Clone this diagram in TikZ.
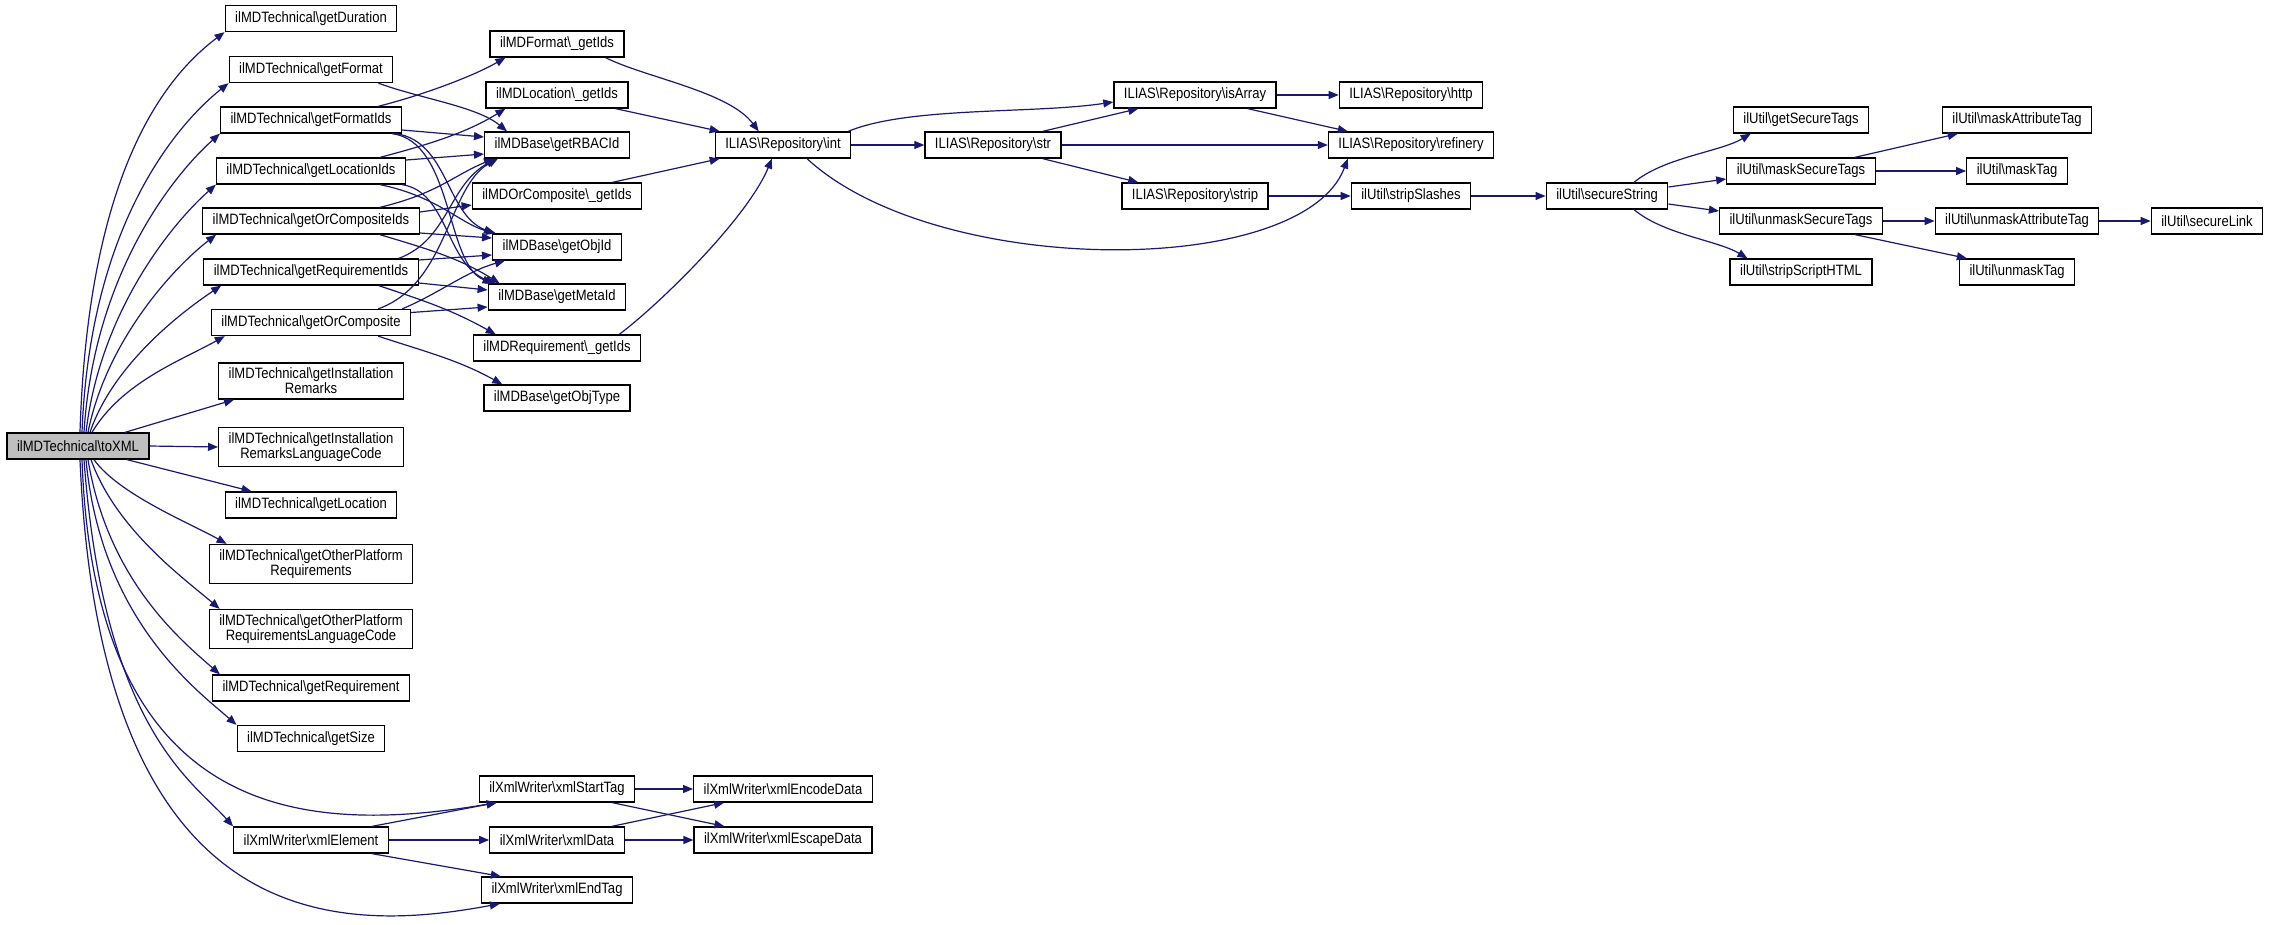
\documentclass[tikz,border=0pt]{standalone}
\usepackage{fontspec}
\setmainfont{Liberation Sans}[FakeStretch=0.87]
\usetikzlibrary{arrows.meta}
\definecolor{edgeblue}{RGB}{25,25,112}
\definecolor{rootgray}{RGB}{191,191,191}
\newcommand{\bsl}{\textbackslash}

\begin{document}
\begin{tikzpicture}[x=1pt,y=-1pt,
  fn/.style={draw=black,fill=white,line width=1.3pt,inner xsep=10pt,inner ysep=5pt,minimum height=26pt,align=center,font=\fontsize{15}{15}\selectfont},
  call/.style={-{Triangle[length=10pt,width=8pt]},draw=edgeblue,line width=1.2pt}]
\path[use as bounding box,fill=white] (0,0) rectangle (2271,924);

% caller
\node[fn,fill=rootgray] (toxml) at (78,446) {ilMDTechnical\bsl toXML};

% ilMDTechnical members
\node[fn] (getdur) at (311,18.5) {ilMDTechnical\bsl getDuration};
\node[fn] (getfmt) at (311,69.5) {ilMDTechnical\bsl getFormat};
\node[fn] (fmtids) at (311,120) {ilMDTechnical\bsl getFormatIds};
\node[fn] (locids) at (311,171) {ilMDTechnical\bsl getLocationIds};
\node[fn] (orcids) at (311,221) {ilMDTechnical\bsl getOrCompositeIds};
\node[fn] (reqids) at (311,272) {ilMDTechnical\bsl getRequirementIds};
\node[fn] (orc) at (311,322.5) {ilMDTechnical\bsl getOrComposite};
\node[fn] (instrem) at (311,381) {ilMDTechnical\bsl getInstallation\\Remarks};
\node[fn] (instlang) at (311,447) {ilMDTechnical\bsl getInstallation\\RemarksLanguageCode};
\node[fn] (getloc) at (311,505) {ilMDTechnical\bsl getLocation};
\node[fn] (oprreq) at (311,564) {ilMDTechnical\bsl getOtherPlatform\\Requirements};
\node[fn] (oprlang) at (311,629) {ilMDTechnical\bsl getOtherPlatform\\RequirementsLanguageCode};
\node[fn] (getreq) at (311,688) {ilMDTechnical\bsl getRequirement};
\node[fn] (getsize) at (311,738.5) {ilMDTechnical\bsl getSize};
\node[fn] (xmlel) at (311,840) {ilXmlWriter\bsl xmlElement};

% base and helper classes
\node[fn] (fmtget) at (557,44) {ilMDFormat\bsl\_getIds};
\node[fn] (locget) at (557,95) {ilMDLocation\bsl\_getIds};
\node[fn] (rbac) at (557,145) {ilMDBase\bsl getRBACId};
\node[fn] (orcget) at (557,196) {ilMDOrComposite\bsl\_getIds};
\node[fn] (objid) at (557,247) {ilMDBase\bsl getObjId};
\node[fn] (metaid) at (557,297) {ilMDBase\bsl getMetaId};
\node[fn] (reqget) at (557,348) {ilMDRequirement\bsl\_getIds};
\node[fn] (objtype) at (557,398) {ilMDBase\bsl getObjType};
\node[fn] (starttag) at (557,789) {ilXmlWriter\bsl xmlStartTag};
\node[fn] (xmldata) at (557,840) {ilXmlWriter\bsl xmlData};
\node[fn] (endtag) at (557,890) {ilXmlWriter\bsl xmlEndTag};
\node[fn] (encdata) at (783,789) {ilXmlWriter\bsl xmlEncodeData};
\node[fn] (escdata) at (783,840) {ilXmlWriter\bsl xmlEscapeData};

% repository
\node[fn] (rint) at (783,145) {ILIAS\bsl Repository\bsl int};
\node[fn] (rstr) at (993,145) {ILIAS\bsl Repository\bsl str};
\node[fn] (risarr) at (1195,95) {ILIAS\bsl Repository\bsl isArray};
\node[fn] (rstrip) at (1195,196) {ILIAS\bsl Repository\bsl strip};
\node[fn] (rhttp) at (1411,95) {ILIAS\bsl Repository\bsl http};
\node[fn] (rrefin) at (1411,145) {ILIAS\bsl Repository\bsl refinery};
\node[fn] (stripsl) at (1411,196) {ilUtil\bsl stripSlashes};

% ilUtil
\node[fn] (securestr) at (1607,196) {ilUtil\bsl secureString};
\node[fn] (getsec) at (1801,120) {ilUtil\bsl getSecureTags};
\node[fn] (masksec) at (1801,171) {ilUtil\bsl maskSecureTags};
\node[fn] (unmasksec) at (1801,221) {ilUtil\bsl unmaskSecureTags};
\node[fn] (stripscr) at (1801,272) {ilUtil\bsl stripScriptHTML};
\node[fn] (maskattr) at (2017,120) {ilUtil\bsl maskAttributeTag};
\node[fn] (masktag) at (2017,171) {ilUtil\bsl maskTag};
\node[fn] (unmaskattr) at (2017,221) {ilUtil\bsl unmaskAttributeTag};
\node[fn] (unmasktag) at (2017,272) {ilUtil\bsl unmaskTag};
\node[fn] (securelink) at (2207,221) {ilUtil\bsl secureLink};

% calls from toXML
\draw[call] ([xshift=2]toxml.north) .. controls +(8,-260) and +(-60,45) .. (getdur.south west);
\draw[call] ([xshift=4]toxml.north) .. controls +(8,-210) and +(-50,40) .. (getfmt.south west);
\draw[call] ([xshift=6]toxml.north) .. controls +(10,-160) and +(-45,40) .. (fmtids.south west);
\draw[call] ([xshift=8]toxml.north) .. controls +(14,-120) and +(-45,40) .. (locids.south west);
\draw[call] ([xshift=10]toxml.north) .. controls +(18,-90) and +(-45,35) .. ([xshift=14]orcids.south west);
\draw[call] ([xshift=12]toxml.north) .. controls +(22,-65) and +(-45,30) .. ([xshift=18]reqids.south west);
\draw[call] ([xshift=14]toxml.north) .. controls +(30,-50) and +(-45,25) .. ([xshift=14]orc.south west);
\draw[call] ([xshift=47]toxml.north) -- ([xshift=16]instrem.south west);
\draw[call] (toxml.east) -- (instlang.west);
\draw[call] ([xshift=49]toxml.south) -- ([xshift=27]getloc.north west);
\draw[call] ([xshift=16]toxml.south) .. controls +(25,35) and +(-35,-20) .. ([xshift=18]oprreq.north west);
\draw[call] ([xshift=13]toxml.south) .. controls +(25,70) and +(-35,-30) .. ([xshift=11]oprlang.north west);
\draw[call] ([xshift=10]toxml.south) .. controls +(20,120) and +(-40,-35) .. ([xshift=8]getreq.north west);
\draw[call] ([xshift=8]toxml.south) .. controls +(15,160) and +(-40,-35) .. (getsize.north west);
\draw[call] ([xshift=6]toxml.south) .. controls +(20,270) and +(-40,-45) .. (xmlel.north west);
\draw[call] ([xshift=4]toxml.south) .. controls +(13,361) and +(-194,33) .. ([xshift=18]starttag.south west);
\draw[call] ([xshift=2]toxml.south) .. controls +(20,471) and +(-169,32) .. ([xshift=19]endtag.south west);

% xml writer
\draw[call] ([xshift=-17]xmlel.north east) -- ([xshift=18]starttag.south west);
\draw[call] (xmlel) -- (xmldata);
\draw[call] ([xshift=-17]xmlel.south east) -- ([xshift=20]endtag.north west);
\draw[call] (starttag) -- (encdata);
\draw[call] ([xshift=-23]starttag.south east) -- ([xshift=31]escdata.north west);
\draw[call] ([xshift=-13]xmldata.north east) -- ([xshift=31]encdata.south west);
\draw[call] (xmldata) -- (escdata);

% ids and base getters
\draw[call] ([xshift=-15]getfmt.south east) .. controls +(40,15) and +(-30,-25) .. ([xshift=23]rbac.north west);
\draw[call] ([xshift=-24]fmtids.north east) .. controls +(40,-10) and +(-35,20) .. ([xshift=16]fmtget.south west);
\draw[call] ([yshift=-10]fmtids.east) -- ([yshift=8]rbac.west);
\draw[call] ([xshift=-6]fmtids.south east) .. controls +(52,8) and +(-48,-19) .. ([xshift=2]objid.north west);
\draw[call] ([xshift=-10]fmtids.south east) .. controls +(61,8) and +(-47,-19) .. ([xshift=5]metaid.north west);
\draw[call] ([xshift=-26]locids.north east) .. controls +(45,-12) and +(-40,25) .. ([xshift=20]locget.south west);
\draw[call] ([yshift=11]locids.east) -- ([yshift=-9]rbac.west);
\draw[call] ([xshift=-26]locids.south east) .. controls +(58,12) and +(-35,-9) .. ([xshift=4]objid.north west);
\draw[call] ([xshift=-4]locids.south east) .. controls +(46,7) and +(-50,-19) .. ([xshift=8]metaid.north west);
\draw[call] ([xshift=-40]orcids.north east) .. controls +(58,-14) and +(-41,17) .. ([xshift=10]rbac.south west);
\draw[call] ([yshift=9]orcids.east) -- ([yshift=-9]orcget.west);
\draw[call] ([yshift=-12]orcids.east) -- ([yshift=9]objid.west);
\draw[call] ([xshift=-40]orcids.south east) .. controls +(50,15) and +(-40,-25) .. ([xshift=12]metaid.north west);
\draw[call] ([xshift=-20]reqids.north east) .. controls +(50,-19) and +(-48,27) .. ([xshift=12]rbac.south west);
\draw[call] ([yshift=12]reqids.east) -- ([yshift=-8]objid.west);
\draw[call] ([yshift=-11]reqids.east) -- ([yshift=7]metaid.west);
\draw[call] ([xshift=-40]reqids.south east) .. controls +(45,15) and +(-45,-25) .. ([xshift=23]reqget.north west);
\draw[call] ([xshift=-33]orc.north east) .. controls +(70,-25) and +(-50,27) .. ([xshift=14]rbac.south west);
\draw[call] ([xshift=-9]orc.north east) .. controls +(36,-15) and +(-39,11) .. ([xshift=13]objid.south west);
\draw[call] ([yshift=10]orc.east) -- ([yshift=-10]metaid.west);
\draw[call] ([xshift=-33]orc.south east) .. controls +(45,15) and +(-45,-25) .. ([xshift=19]objtype.north west);

% repository calls
\draw[call] ([xshift=-19]fmtget.south east) .. controls +(40,20) and +(-30,-40) .. ([xshift=44]rint.north west);
\draw[call] ([xshift=-13]locget.south east) -- ([xshift=5]rint.north west);
\draw[call] ([xshift=-30]orcget.north east) -- ([xshift=5]rint.south west);
\draw[call] ([xshift=-22]reqget.north east) .. controls +(40,-30) and +(-25,60) .. ([xshift=-11]rint.south);
\draw[call] (rint) -- (rstr);
\draw[call] ([xshift=-3]rint.north east) .. controls +(60,-25) and +(-80,12) .. ([yshift=-7]risarr.west);
\draw[call] ([xshift=24]rint.south) .. controls +(130,120) and +(-45,120) .. ([xshift=20]rrefin.south west);
\draw[call] ([xshift=-19]rstr.north east) -- ([xshift=25]risarr.south west);
\draw[call] (rstr) -- (rrefin);
\draw[call] ([xshift=-19]rstr.south east) -- ([xshift=17]rstrip.north west);
\draw[call] (risarr) -- (rhttp);
\draw[call] ([xshift=-29]risarr.south east) -- ([xshift=20]rrefin.north west);
\draw[call] (rstrip) -- (stripsl);
\draw[call] (stripsl) -- (securestr);

% ilUtil calls
\draw[call] ([xshift=27]securestr.north) .. controls +(30,-25) and +(-30,18) .. ([xshift=18]getsec.south west);
\draw[call] ([yshift=9]securestr.east) -- ([yshift=-8]masksec.west);
\draw[call] ([yshift=-8]securestr.east) -- ([yshift=10]unmasksec.west);
\draw[call] ([xshift=27]securestr.south) .. controls +(30,25) and +(-30,-18) .. ([xshift=18]stripscr.north west);
\draw[call] ([xshift=-21]masksec.north east) -- ([xshift=16]maskattr.south west);
\draw[call] (masksec) -- (masktag);
\draw[call] (unmasksec) -- (unmaskattr);
\draw[call] ([xshift=-28]unmasksec.south east) -- ([xshift=8]unmasktag.north west);
\draw[call] (unmaskattr) -- (securelink);
\end{tikzpicture}
\end{document}
